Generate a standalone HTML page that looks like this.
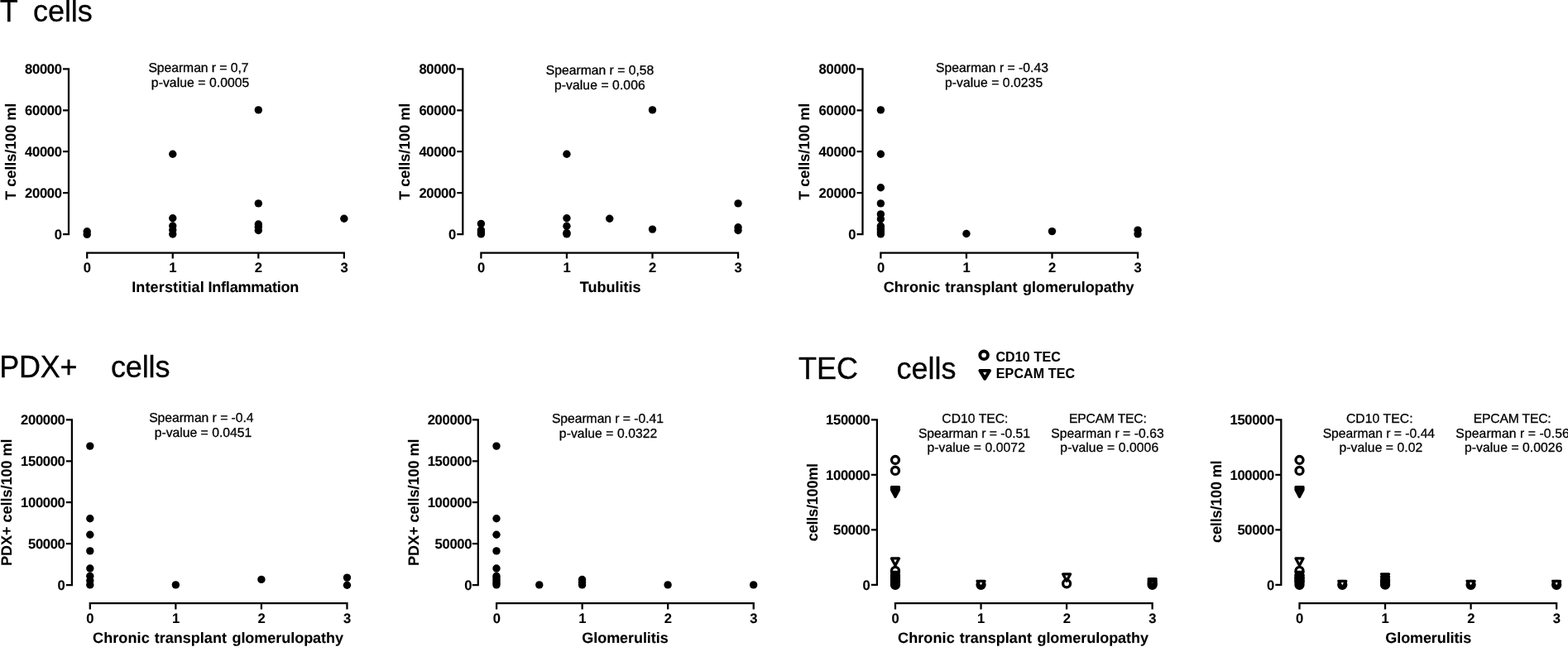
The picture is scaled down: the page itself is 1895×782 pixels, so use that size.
<!DOCTYPE html>
<html lang="en">
<head>
<meta charset="utf-8">
<title>T cells, PDX+ cells and TEC cells - Spearman correlations</title>
<style>
html,body{margin:0;padding:0;background:#fff;}
body{width:1895px;height:782px;overflow:hidden;}
svg{display:block;position:absolute;left:0;top:0;}
text{font-family:"Liberation Sans",Arial,Helvetica,sans-serif;fill:#000;white-space:pre;}
.ti{font-size:36px;stroke:#000;stroke-width:0.3px;}
.tk{font-size:16.6px;font-weight:bold;letter-spacing:-0.33px;text-rendering:geometricPrecision;stroke:#000;stroke-width:0.1px;}
.at{font-size:18px;font-weight:bold;stroke:#000;stroke-width:0.1px;text-rendering:geometricPrecision;}
.st{font-size:15.7px;stroke:#000;stroke-width:0.3px;text-rendering:geometricPrecision;}
.lg{font-size:16px;font-weight:bold;stroke:#000;stroke-width:0.1px;}
.ax{fill:none;stroke:#000;stroke-width:2.25;stroke-linecap:butt;}
.d{fill:#000;}
.o{fill:none;stroke:#000;stroke-width:3.3;stroke-linejoin:round;}
</style>
</head>
<body>
<svg width="1895" height="782" viewBox="0 0 1895 782">
<text class="ti" x="-0.3" y="26">T</text>
<text class="ti" x="40.1" y="26" style="letter-spacing:-0.08px">cells</text>
<text class="ti" x="-0.7" y="456" style="letter-spacing:-0.27px">PDX+</text>
<text class="ti" x="133.9" y="456" style="letter-spacing:-0.1px">cells</text>
<text class="ti" x="965" y="457.5">TEC</text>
<text class="ti" x="1083.4" y="457.5">cells</text>
<circle class="o" cx="1189.1" cy="429.3" r="4.8" style="stroke-width:3.9"/>
<path class="o" d="M1184.45 448.05 h11.5 l-5.75 9.6 z" style="stroke-width:4.1"/>
<text class="lg" x="1203.4" y="437.2" style="letter-spacing:0.15px">CD10 TEC</text>
<text class="lg" x="1203.8" y="457.4" style="letter-spacing:0.13px">EPCAM TEC</text>
<path class="ax" d="M83 82.28 V284.23 M76 83.4 H84.12 M76 133.3 H84.12 M76 183.2 H84.12 M76 233.2 H84.12 M76 283.1 H84.12 M104.08 305.5 H416.97 M105.2 304.38 V312.5 M208.75 304.38 V312.5 M312.3 304.38 V312.5 M415.85 304.38 V312.5"/>
<text class="tk" text-anchor="end" x="74.6" y="89.4">80000</text>
<text class="tk" text-anchor="end" x="74.6" y="139.3">60000</text>
<text class="tk" text-anchor="end" x="74.6" y="189.2">40000</text>
<text class="tk" text-anchor="end" x="74.6" y="239.2">20000</text>
<text class="tk" text-anchor="end" x="74.6" y="289.1">0</text>
<text class="tk" text-anchor="middle" x="105.2" y="329.2">0</text>
<text class="tk" text-anchor="middle" x="208.75" y="329.2">1</text>
<text class="tk" text-anchor="middle" x="312.3" y="329.2">2</text>
<text class="tk" text-anchor="middle" x="415.85" y="329.2">3</text>
<text class="at" text-anchor="middle" transform="translate(18.8 183.25) rotate(-90)">T cells/100 ml</text>
<text class="at" y="353.4"><tspan x="159.18" style="letter-spacing:0.144px">Interstitial </tspan><tspan x="251.43" style="letter-spacing:-0.196px">Inflammation</tspan></text>
<path class="ax" d="M559.3 82.28 V284.23 M552.3 83.4 H560.42 M552.3 133.3 H560.42 M552.3 183.2 H560.42 M552.3 233.2 H560.42 M552.3 283.1 H560.42 M580.27 305.5 H893.17 M581.4 304.38 V312.5 M684.95 304.38 V312.5 M788.5 304.38 V312.5 M892.05 304.38 V312.5"/>
<text class="tk" text-anchor="end" x="550.9" y="89.4">80000</text>
<text class="tk" text-anchor="end" x="550.9" y="139.3">60000</text>
<text class="tk" text-anchor="end" x="550.9" y="189.2">40000</text>
<text class="tk" text-anchor="end" x="550.9" y="239.2">20000</text>
<text class="tk" text-anchor="end" x="550.9" y="289.1">0</text>
<text class="tk" text-anchor="middle" x="581.4" y="329.2">0</text>
<text class="tk" text-anchor="middle" x="684.95" y="329.2">1</text>
<text class="tk" text-anchor="middle" x="788.5" y="329.2">2</text>
<text class="tk" text-anchor="middle" x="892.05" y="329.2">3</text>
<text class="at" text-anchor="middle" transform="translate(495.1 183.25) rotate(-90)">T cells/100 ml</text>
<text class="at" x="700.77" y="353.4">Tubulitis</text>
<path class="ax" d="M1042.5 82.28 V284.23 M1035.5 83.4 H1043.62 M1035.5 133.3 H1043.62 M1035.5 183.2 H1043.62 M1035.5 233.2 H1043.62 M1035.5 283.1 H1043.62 M1063.28 305.5 H1376.18 M1064.4 304.38 V312.5 M1167.95 304.38 V312.5 M1271.5 304.38 V312.5 M1375.05 304.38 V312.5"/>
<text class="tk" text-anchor="end" x="1034.1" y="89.4">80000</text>
<text class="tk" text-anchor="end" x="1034.1" y="139.3">60000</text>
<text class="tk" text-anchor="end" x="1034.1" y="189.2">40000</text>
<text class="tk" text-anchor="end" x="1034.1" y="239.2">20000</text>
<text class="tk" text-anchor="end" x="1034.1" y="289.1">0</text>
<text class="tk" text-anchor="middle" x="1064.4" y="329.2">0</text>
<text class="tk" text-anchor="middle" x="1167.95" y="329.2">1</text>
<text class="tk" text-anchor="middle" x="1271.5" y="329.2">2</text>
<text class="tk" text-anchor="middle" x="1375.05" y="329.2">3</text>
<text class="at" text-anchor="middle" transform="translate(978.3 183.25) rotate(-90)">T cells/100 ml</text>
<text class="at" y="353.4"><tspan x="1067.63" style="letter-spacing:0.118px">Chronic </tspan><tspan x="1142.37" style="letter-spacing:0.013px">transplant </tspan><tspan x="1236.03" style="letter-spacing:-0.03px">glomerulopathy</tspan></text>
<circle class="d" cx="105.2" cy="279.7" r="4.7"/>
<circle class="d" cx="105.2" cy="283.4" r="4.7"/>
<circle class="d" cx="208.75" cy="186.2" r="4.7"/>
<circle class="d" cx="208.75" cy="263.7" r="4.7"/>
<circle class="d" cx="208.75" cy="273" r="4.7"/>
<circle class="d" cx="208.75" cy="278" r="4.7"/>
<circle class="d" cx="208.75" cy="283" r="4.7"/>
<circle class="d" cx="312.3" cy="132.9" r="4.7"/>
<circle class="d" cx="312.3" cy="245.9" r="4.7"/>
<circle class="d" cx="312.3" cy="271" r="4.7"/>
<circle class="d" cx="312.3" cy="274.2" r="4.7"/>
<circle class="d" cx="312.3" cy="278.5" r="4.7"/>
<circle class="d" cx="415.85" cy="264.3" r="4.7"/>
<circle class="d" cx="581.4" cy="270.4" r="4.7"/>
<circle class="d" cx="581.4" cy="278.1" r="4.7"/>
<circle class="d" cx="581.4" cy="280.5" r="4.7"/>
<circle class="d" cx="581.4" cy="282.9" r="4.7"/>
<circle class="d" cx="684.95" cy="186.2" r="4.7"/>
<circle class="d" cx="684.95" cy="263.7" r="4.7"/>
<circle class="d" cx="684.95" cy="273.3" r="4.7"/>
<circle class="d" cx="684.95" cy="281.5" r="4.7"/>
<circle class="d" cx="684.95" cy="282.9" r="4.7"/>
<circle class="d" cx="736.72" cy="264.3" r="4.7"/>
<circle class="d" cx="788.5" cy="132.9" r="4.7"/>
<circle class="d" cx="788.5" cy="277.1" r="4.7"/>
<circle class="d" cx="892.05" cy="245.9" r="4.7"/>
<circle class="d" cx="892.05" cy="274.8" r="4.7"/>
<circle class="d" cx="892.05" cy="278.5" r="4.7"/>
<circle class="d" cx="1064.4" cy="132.9" r="4.7"/>
<circle class="d" cx="1064.4" cy="186.2" r="4.7"/>
<circle class="d" cx="1064.4" cy="226.7" r="4.7"/>
<circle class="d" cx="1064.4" cy="245.9" r="4.7"/>
<circle class="d" cx="1064.4" cy="258.9" r="4.7"/>
<circle class="d" cx="1064.4" cy="264.7" r="4.7"/>
<circle class="d" cx="1064.4" cy="273.3" r="4.7"/>
<circle class="d" cx="1064.4" cy="276" r="4.7"/>
<circle class="d" cx="1064.4" cy="278.1" r="4.7"/>
<circle class="d" cx="1064.4" cy="280.5" r="4.7"/>
<circle class="d" cx="1064.4" cy="282.9" r="4.7"/>
<circle class="d" cx="1167.95" cy="282.5" r="4.7"/>
<circle class="d" cx="1271.5" cy="279.6" r="4.7"/>
<circle class="d" cx="1375.05" cy="278.1" r="4.7"/>
<circle class="d" cx="1375.05" cy="282.9" r="4.7"/>
<text class="st" x="179.44" y="87.2" style="letter-spacing:-0.037px">Spearman r = 0,7</text>
<text class="st" x="182.83" y="105.1" style="letter-spacing:0.079px">p-value = 0.0005</text>
<text class="st" x="659.84" y="90.3">Spearman r = 0,58</text>
<text class="st" x="669.93" y="108.2" style="letter-spacing:0.085px">p-value = 0.006</text>
<text class="st" x="1131.04" y="87.2" style="letter-spacing:0.017px">Spearman r = -0.43</text>
<text class="st" x="1141.93" y="105.1" style="letter-spacing:0.059px">p-value = 0.0235</text>
<path class="ax" d="M86.9 506.27 V708.12 M79.9 507.4 H88.03 M79.9 557.3 H88.03 M79.9 607.2 H88.03 M79.9 657.1 H88.03 M79.9 707 H88.03 M107.67 729 H420.57 M108.8 727.88 V736.6 M212.35 727.88 V736.6 M315.9 727.88 V736.6 M419.45 727.88 V736.6"/>
<text class="tk" text-anchor="end" x="78.5" y="513.4">200000</text>
<text class="tk" text-anchor="end" x="78.5" y="563.3">150000</text>
<text class="tk" text-anchor="end" x="78.5" y="613.2">100000</text>
<text class="tk" text-anchor="end" x="78.5" y="663.1">50000</text>
<text class="tk" text-anchor="end" x="78.5" y="713">0</text>
<text class="tk" text-anchor="middle" x="108.8" y="753.3">0</text>
<text class="tk" text-anchor="middle" x="212.35" y="753.3">1</text>
<text class="tk" text-anchor="middle" x="315.9" y="753.3">2</text>
<text class="tk" text-anchor="middle" x="419.45" y="753.3">3</text>
<text class="at" text-anchor="middle" transform="translate(14.4 607.2) rotate(-90)">PDX+ cells/100 ml</text>
<text class="at" y="777"><tspan x="112.03" style="letter-spacing:0.118px">Chronic </tspan><tspan x="186.77" style="letter-spacing:0.013px">transplant </tspan><tspan x="280.43" style="letter-spacing:-0.03px">glomerulopathy</tspan></text>
<path class="ax" d="M577.8 506.27 V708.12 M570.8 507.4 H578.92 M570.8 557.3 H578.92 M570.8 607.2 H578.92 M570.8 657.1 H578.92 M570.8 707 H578.92 M598.98 729 H911.88 M600.1 727.88 V736.6 M703.65 727.88 V736.6 M807.2 727.88 V736.6 M910.75 727.88 V736.6"/>
<text class="tk" text-anchor="end" x="570.1" y="513.4">200000</text>
<text class="tk" text-anchor="end" x="570.1" y="563.3">150000</text>
<text class="tk" text-anchor="end" x="570.1" y="613.2">100000</text>
<text class="tk" text-anchor="end" x="570.1" y="663.1">50000</text>
<text class="tk" text-anchor="end" x="570.1" y="713">0</text>
<text class="tk" text-anchor="middle" x="600.1" y="753.3">0</text>
<text class="tk" text-anchor="middle" x="703.65" y="753.3">1</text>
<text class="tk" text-anchor="middle" x="807.2" y="753.3">2</text>
<text class="tk" text-anchor="middle" x="910.75" y="753.3">3</text>
<text class="at" text-anchor="middle" transform="translate(505.6 607.2) rotate(-90)">PDX+ cells/100 ml</text>
<text class="at" x="703.33" y="777" style="letter-spacing:-0.063px">Glomerulitis</text>
<circle class="d" cx="108.8" cy="539.1" r="4.7"/>
<circle class="d" cx="108.8" cy="626.7" r="4.7"/>
<circle class="d" cx="108.8" cy="646.3" r="4.7"/>
<circle class="d" cx="108.8" cy="665.9" r="4.7"/>
<circle class="d" cx="108.8" cy="687" r="4.7"/>
<circle class="d" cx="108.8" cy="696.3" r="4.7"/>
<circle class="d" cx="108.8" cy="701.8" r="4.7"/>
<circle class="d" cx="108.8" cy="706.9" r="4.7"/>
<circle class="d" cx="212.35" cy="706.9" r="4.7"/>
<circle class="d" cx="315.9" cy="700.4" r="4.7"/>
<circle class="d" cx="419.45" cy="698.1" r="4.7"/>
<circle class="d" cx="419.45" cy="707.3" r="4.7"/>
<circle class="d" cx="600" cy="539.1" r="4.7"/>
<circle class="d" cx="600" cy="626.7" r="4.7"/>
<circle class="d" cx="600" cy="646.3" r="4.7"/>
<circle class="d" cx="600" cy="665.9" r="4.7"/>
<circle class="d" cx="600" cy="687" r="4.7"/>
<circle class="d" cx="600" cy="696.3" r="4.7"/>
<circle class="d" cx="600" cy="701.8" r="4.7"/>
<circle class="d" cx="600" cy="706.9" r="4.7"/>
<circle class="d" cx="600" cy="699" r="4.7"/>
<circle class="d" cx="600" cy="704.4" r="4.7"/>
<circle class="d" cx="651.77" cy="706.9" r="4.7"/>
<circle class="d" cx="703.55" cy="700.5" r="4.7"/>
<circle class="d" cx="703.55" cy="703.7" r="4.7"/>
<circle class="d" cx="703.55" cy="706.9" r="4.7"/>
<circle class="d" cx="807.1" cy="706.9" r="4.7"/>
<circle class="d" cx="910.65" cy="706.9" r="4.7"/>
<text class="st" x="180.14" y="510.4" style="letter-spacing:-0.029px">Spearman r = -0.4</text>
<text class="st" x="186.73" y="528.3" style="letter-spacing:0.01px">p-value = 0.0451</text>
<text class="st" x="666.94" y="510.7" style="letter-spacing:-0.037px">Spearman r = -0.41</text>
<text class="st" x="675.83" y="528.6" style="letter-spacing:0.077px">p-value = 0.0322</text>
<path class="ax" d="M1059.9 506.27 V708.02 M1052.9 507.4 H1061.03 M1052.9 573.9 H1061.03 M1052.9 640.4 H1061.03 M1052.9 706.9 H1061.03 M1080.88 729 H1393.78 M1082 727.88 V736.6 M1185.55 727.88 V736.6 M1289.1 727.88 V736.6 M1392.65 727.88 V736.6"/>
<text class="tk" text-anchor="end" x="1051.5" y="513.4">150000</text>
<text class="tk" text-anchor="end" x="1051.5" y="579.9">100000</text>
<text class="tk" text-anchor="end" x="1051.5" y="646.4">50000</text>
<text class="tk" text-anchor="end" x="1051.5" y="712.9">0</text>
<text class="tk" text-anchor="middle" x="1082" y="753.3">0</text>
<text class="tk" text-anchor="middle" x="1185.55" y="753.3">1</text>
<text class="tk" text-anchor="middle" x="1289.1" y="753.3">2</text>
<text class="tk" text-anchor="middle" x="1392.65" y="753.3">3</text>
<text class="at" text-anchor="middle" transform="translate(988 607.15) rotate(-90)" style="letter-spacing:-0.18px">cells/100ml</text>
<text class="at" y="777"><tspan x="1085.03" style="letter-spacing:0.118px">Chronic </tspan><tspan x="1159.77" style="letter-spacing:0.013px">transplant </tspan><tspan x="1253.43" style="letter-spacing:-0.03px">glomerulopathy</tspan></text>
<path class="ax" d="M1548.3 506.27 V708.02 M1541.3 507.4 H1549.42 M1541.3 573.9 H1549.42 M1541.3 640.4 H1549.42 M1541.3 706.9 H1549.42 M1569.38 729 H1882.28 M1570.5 727.88 V736.6 M1674.05 727.88 V736.6 M1777.6 727.88 V736.6 M1881.15 727.88 V736.6"/>
<text class="tk" text-anchor="end" x="1539.9" y="513.4">150000</text>
<text class="tk" text-anchor="end" x="1539.9" y="579.9">100000</text>
<text class="tk" text-anchor="end" x="1539.9" y="646.4">50000</text>
<text class="tk" text-anchor="end" x="1539.9" y="712.9">0</text>
<text class="tk" text-anchor="middle" x="1570.5" y="753.3">0</text>
<text class="tk" text-anchor="middle" x="1674.05" y="753.3">1</text>
<text class="tk" text-anchor="middle" x="1777.6" y="753.3">2</text>
<text class="tk" text-anchor="middle" x="1881.15" y="753.3">3</text>
<text class="at" text-anchor="middle" transform="translate(1476.3 606.25) rotate(-90)" style="letter-spacing:-0.15px">cells/100 ml</text>
<text class="at" x="1674.33" y="777" style="letter-spacing:-0.099px">Glomerulitis</text>
<circle class="o" cx="1082" cy="556" r="4.5"/>
<circle class="o" cx="1082" cy="568.9" r="4.5"/>
<path class="o" d="M1077.47 588.65 h9.05 l-4.53 8.5 z" style="stroke-width:3.25"/>
<path class="o" d="M1077.47 590.35 h9.05 l-4.53 8.5 z" style="stroke-width:3.25"/>
<path class="o" d="M1077.47 591.95 h9.05 l-4.53 8.5 z" style="stroke-width:3.25"/>
<path class="o" d="M1077.47 674.95 h9.05 l-4.53 8.5 z" style="stroke-width:3.25"/>
<circle class="o" cx="1082" cy="689.9" r="4.5"/>
<circle class="o" cx="1082" cy="696.2" r="4.5"/>
<circle class="o" cx="1082" cy="698.6" r="4.5"/>
<circle class="o" cx="1082" cy="701.2" r="4.5"/>
<circle class="o" cx="1082" cy="703.8" r="4.5"/>
<circle class="o" cx="1082" cy="706.8" r="4.5"/>
<path class="o" d="M1077.47 691.45 h9.05 l-4.53 8.5 z" style="stroke-width:3.25"/>
<path class="o" d="M1077.47 694.75 h9.05 l-4.53 8.5 z" style="stroke-width:3.25"/>
<path class="o" d="M1077.47 698.75 h9.05 l-4.53 8.5 z" style="stroke-width:3.25"/>
<path class="o" d="M1077.47 702.25 h9.05 l-4.53 8.5 z" style="stroke-width:3.25"/>
<circle class="o" cx="1185.55" cy="706.8" r="4.5"/>
<path class="o" d="M1181.02 702.25 h9.05 l-4.53 8.5 z" style="stroke-width:3.25"/>
<circle class="o" cx="1289.1" cy="705.3" r="4.5"/>
<path class="o" d="M1284.57 693.85 h9.05 l-4.53 8.5 z" style="stroke-width:3.25"/>
<circle class="o" cx="1392.65" cy="706.8" r="4.5"/>
<circle class="o" cx="1392.65" cy="704.5" r="4.5"/>
<path class="o" d="M1388.12 699.65 h9.05 l-4.53 8.5 z" style="stroke-width:3.25"/>
<path class="o" d="M1388.12 702.05 h9.05 l-4.53 8.5 z" style="stroke-width:3.25"/>
<circle class="o" cx="1570.5" cy="556" r="4.5"/>
<circle class="o" cx="1570.5" cy="568.9" r="4.5"/>
<path class="o" d="M1565.97 588.65 h9.05 l-4.53 8.5 z" style="stroke-width:3.25"/>
<path class="o" d="M1565.97 590.35 h9.05 l-4.53 8.5 z" style="stroke-width:3.25"/>
<path class="o" d="M1565.97 591.95 h9.05 l-4.53 8.5 z" style="stroke-width:3.25"/>
<path class="o" d="M1565.97 674.95 h9.05 l-4.53 8.5 z" style="stroke-width:3.25"/>
<circle class="o" cx="1570.5" cy="689.9" r="4.5"/>
<circle class="o" cx="1570.5" cy="696.2" r="4.5"/>
<circle class="o" cx="1570.5" cy="698.6" r="4.5"/>
<circle class="o" cx="1570.5" cy="701.2" r="4.5"/>
<circle class="o" cx="1570.5" cy="703.8" r="4.5"/>
<circle class="o" cx="1570.5" cy="706.8" r="4.5"/>
<path class="o" d="M1565.97 691.45 h9.05 l-4.53 8.5 z" style="stroke-width:3.25"/>
<path class="o" d="M1565.97 694.75 h9.05 l-4.53 8.5 z" style="stroke-width:3.25"/>
<path class="o" d="M1565.97 698.75 h9.05 l-4.53 8.5 z" style="stroke-width:3.25"/>
<path class="o" d="M1565.97 702.25 h9.05 l-4.53 8.5 z" style="stroke-width:3.25"/>
<circle class="o" cx="1622.28" cy="706.8" r="4.5"/>
<path class="o" d="M1617.75 702.25 h9.05 l-4.53 8.5 z" style="stroke-width:3.25"/>
<circle class="o" cx="1674.05" cy="706.7" r="4.5"/>
<circle class="o" cx="1674.05" cy="703.8" r="4.5"/>
<circle class="o" cx="1674.05" cy="701.2" r="4.5"/>
<path class="o" d="M1669.52 693.75 h9.05 l-4.53 8.5 z" style="stroke-width:3.25"/>
<path class="o" d="M1669.52 696.95 h9.05 l-4.53 8.5 z" style="stroke-width:3.25"/>
<path class="o" d="M1669.52 700.75 h9.05 l-4.53 8.5 z" style="stroke-width:3.25"/>
<circle class="o" cx="1777.6" cy="706.8" r="4.5"/>
<path class="o" d="M1773.07 702.25 h9.05 l-4.53 8.5 z" style="stroke-width:3.25"/>
<circle class="o" cx="1881.15" cy="706.8" r="4.5"/>
<path class="o" d="M1876.62 702.25 h9.05 l-4.53 8.5 z" style="stroke-width:3.25"/>
<text class="st" x="1138.27" y="510.7" style="letter-spacing:0.036px">CD10 TEC:</text>
<text class="st" x="1109.94" y="528.9" style="letter-spacing:-0.037px">Spearman r = -0.51</text>
<text class="st" x="1120.43" y="546.2" style="letter-spacing:0.077px">p-value = 0.0072</text>
<text class="st" x="1292.09" y="510.7" style="letter-spacing:-0.205px">EPCAM TEC:</text>
<text class="st" x="1270.14" y="528.9" style="letter-spacing:0.058px">Spearman r = -0.63</text>
<text class="st" x="1281.33" y="546.2" style="letter-spacing:0.098px">p-value = 0.0006</text>
<text class="st" x="1626.96" y="510.7" style="letter-spacing:0.086px">CD10 TEC:</text>
<text class="st" x="1598.64" y="528.9" style="letter-spacing:-0.009px">Spearman r = -0.44</text>
<text class="st" x="1618.53" y="546.2" style="letter-spacing:0.067px">p-value = 0.02</text>
<text class="st" x="1780.79" y="510.7" style="letter-spacing:-0.183px">EPCAM TEC:</text>
<text class="st" x="1759.34" y="528.9" style="letter-spacing:0.105px">Spearman r = -0.56</text>
<text class="st" x="1770.03" y="546.2" style="letter-spacing:0.071px">p-value = 0.0026</text>
</svg>
</body>
</html>
